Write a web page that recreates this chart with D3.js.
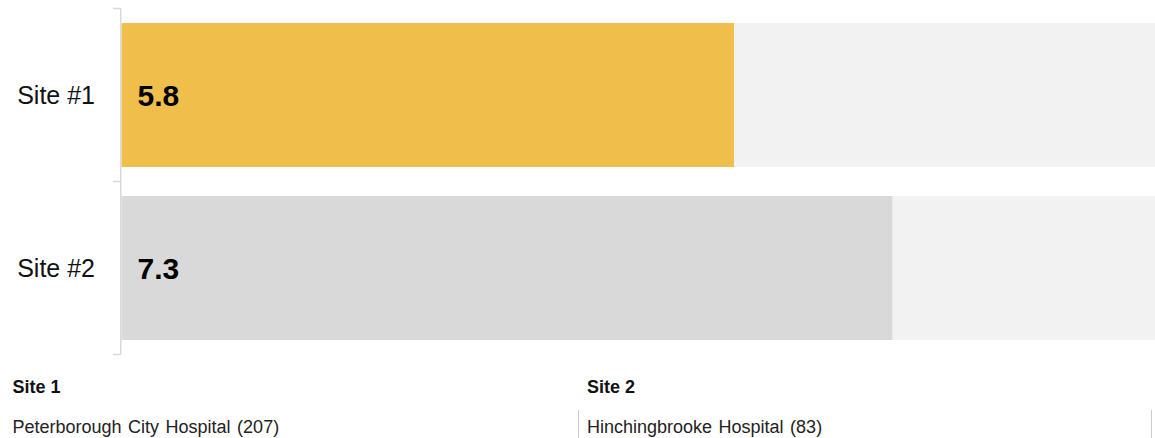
<!DOCTYPE html>
<html>
<head>
<meta charset="utf-8">
<script src="https://cdn.jsdelivr.net/npm/d3@7"></script>
<style>
  html, body { margin: 0; padding: 0; background: #fff; }
  svg { display: block; font-family: "Liberation Sans", Arial, sans-serif; }
</style>
</head>
<body>
<svg id="chart" width="1155" height="438"></svg>
<script>
const categories = ["Site #1", "Site #2"];
const values = [5.8, 7.3];
const valueLabels = ["5.8", "7.3"];
const maxValue = 10;
const legendTitles = ["Site 1", "Site 2"];
const legendNames = ["Peterborough City Hospital (207)", "Hinchingbrooke Hospital (83)"];

const svg = d3.select("#chart");
const x0 = 121.5;
const x = d3.scaleLinear().domain([0, maxValue]).range([x0, x0 + 1056]);
const y = d3.scaleBand().domain(categories).range([8.5, 354.5])
  .paddingInner(0.1676).paddingOuter(0.0838);

const barColors = ["#f0be4a", "#d9d9d9"];

// background bars
svg.selectAll("rect.bg").data(categories).join("rect")
  .attr("class", "bg")
  .attr("x", x(0)).attr("y", d => y(d))
  .attr("width", x(maxValue) - x(0)).attr("height", y.bandwidth())
  .attr("fill", "#f2f2f2");

// value bars
svg.selectAll("rect.bar").data(values).join("rect")
  .attr("class", "bar")
  .attr("x", x(0)).attr("y", (d, i) => y(categories[i]))
  .attr("width", d => x(d) - x(0)).attr("height", y.bandwidth())
  .attr("fill", (d, i) => barColors[i]);

// axis line with ticks at band boundaries
const half = y.step() * y.paddingInner() / 2;
const bounds = categories.map(c => y(c) - half).concat([y(categories[categories.length - 1]) + y.bandwidth() + half]);
const axisX = x0 - 0.75;
svg.append("line")
  .attr("x1", axisX).attr("x2", axisX)
  .attr("y1", bounds[0]).attr("y2", bounds[bounds.length - 1])
  .attr("stroke", "#d9d9d9").attr("stroke-width", 1.5);
svg.selectAll("line.tick").data(bounds).join("line")
  .attr("class", "tick")
  .attr("x1", 113).attr("x2", axisX)
  .attr("y1", d => d).attr("y2", d => d)
  .attr("stroke", "#d9d9d9").attr("stroke-width", 1.5);

// category labels
svg.selectAll("text.cat").data(categories).join("text")
  .attr("class", "cat")
  .attr("x", 95).attr("y", d => y(d) + y.bandwidth() / 2 + 9)
  .attr("text-anchor", "end")
  .attr("font-size", 25).attr("fill", "#111")
  .text(d => d);

// value labels
svg.selectAll("text.val").data(valueLabels).join("text")
  .attr("class", "val")
  .attr("x", x(0) + 16).attr("y", (d, i) => y(categories[i]) + y.bandwidth() / 2 + 10.5)
  .attr("font-size", 30).attr("font-weight", "bold").attr("fill", "#000")
  .text(d => d);

// legend table
const colX = [12.5, 587];
const borderX = [578.5, 1151.5];
svg.selectAll("text.ltitle").data(legendTitles).join("text")
  .attr("class", "ltitle")
  .attr("x", (d, i) => colX[i]).attr("y", 392.5)
  .attr("font-size", 18).attr("font-weight", "bold").attr("fill", "#111")
  .text(d => d);
svg.selectAll("text.lname").data(legendNames).join("text")
  .attr("class", "lname")
  .attr("x", (d, i) => colX[i]).attr("y", 433)
  .attr("font-size", 18).attr("word-spacing", 1.5).attr("fill", "#222")
  .text(d => d);
svg.selectAll("line.lborder").data(borderX).join("line")
  .attr("class", "lborder")
  .attr("x1", d => d).attr("x2", d => d)
  .attr("y1", 410).attr("y2", 438)
  .attr("stroke", "#ccc").attr("stroke-width", 1);
</script>
</body>
</html>
